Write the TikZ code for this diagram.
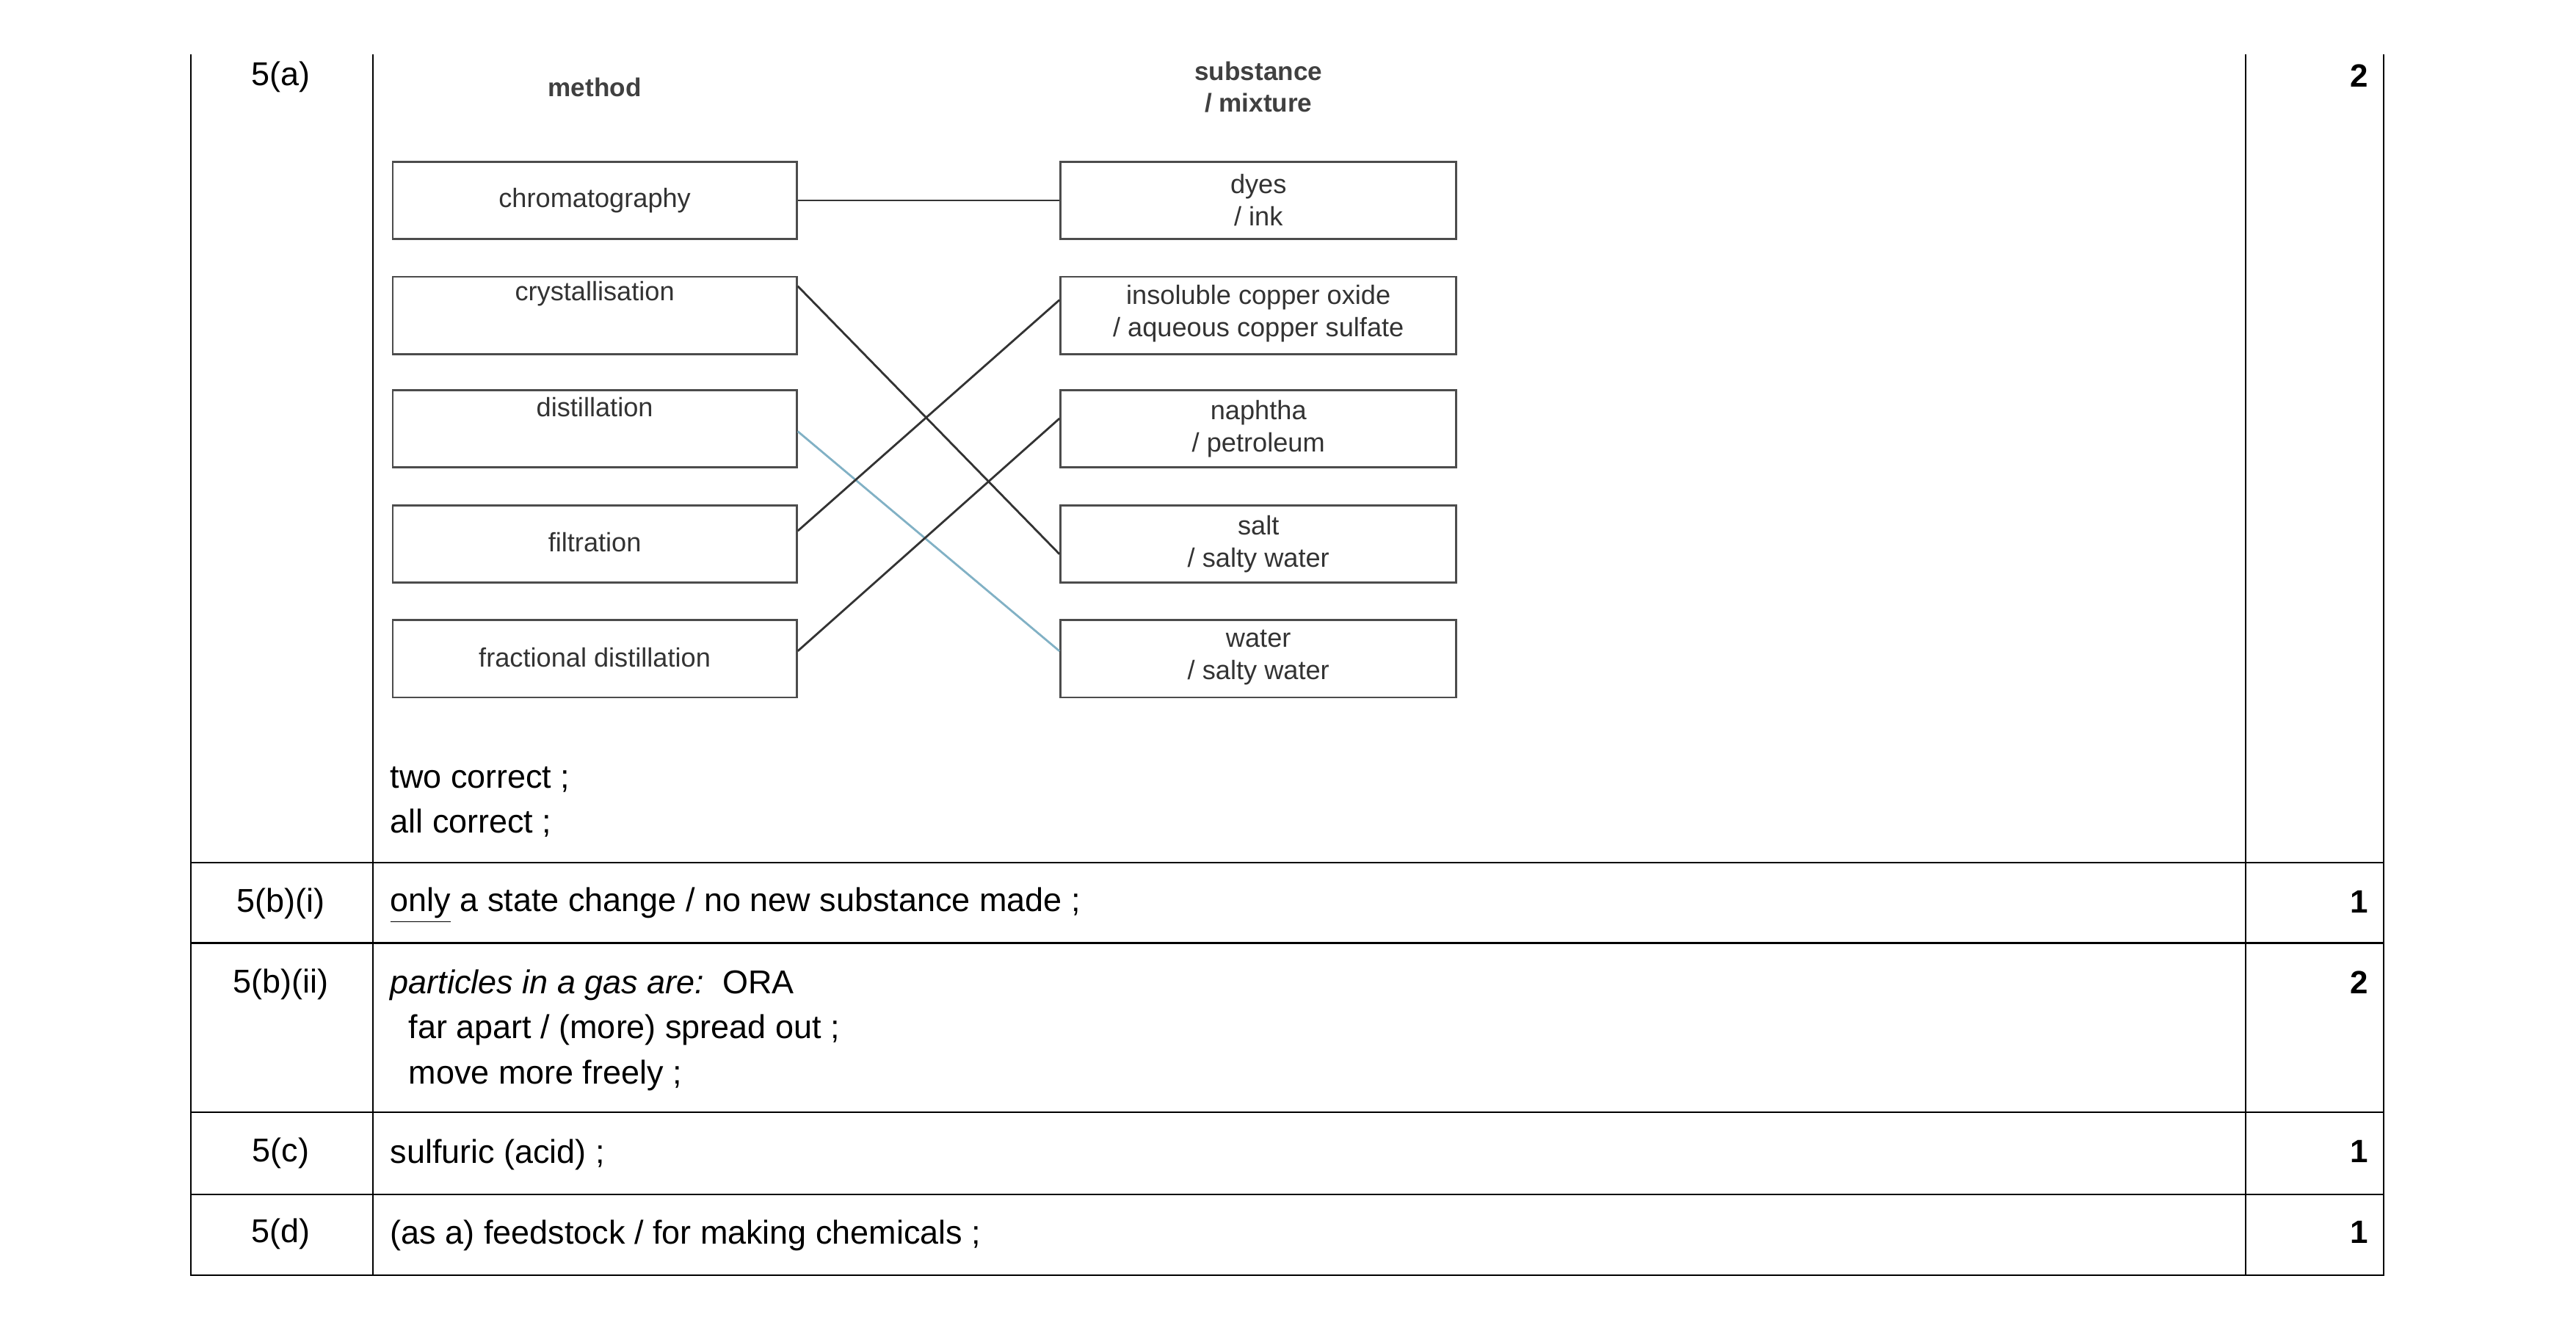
\documentclass[tikz,border=0pt]{standalone}
\usepackage{fontspec}
\setmainfont{Liberation Sans}
\usetikzlibrary{positioning}
\begin{document}
\begin{tikzpicture}[x=0.02238cm,y=-0.02238cm,
    box/.style={draw=black!70,line width=0.8pt,minimum width=5.505cm,minimum height=1.052cm},
    rbox/.style={box,minimum width=5.394cm},
    boxtext/.style={font=\fontsize{10.3}{12.5}\selectfont,text=black!80,align=center},
    head/.style={font=\fontsize{10}{12.5}\selectfont\bfseries,text=black!75,align=center},
    cell/.style={font=\fontsize{12.8}{17.5}\selectfont,anchor=west,align=left},
    qlabel/.style={font=\fontsize{12.8}{15}\selectfont},
    score/.style={font=\fontsize{12.5}{15}\selectfont\bfseries},
    link/.style={line width=0.8pt,black!80}]
  \useasboundingbox (0,0) rectangle (1568,810);
  % table
  \draw[line width=0.6pt] (116,33) -- (116,776) -- (1451,776) -- (1451,33);
  \draw[line width=0.6pt] (227,33) -- (227,776) (1367,33) -- (1367,776);
  \foreach \y in {525,574,677,727} \draw[line width=0.6pt] (116,\y) -- (1451,\y);
  % first column
  \node[qlabel] (qa) at (171,47) {5(a)};
  \node[qlabel] (qbi) at (171,550) {5(b)(i)};
  \node[qlabel] (qbii) at (171,599) {5(b)(ii)};
  \node[qlabel] (qc) at (171,702) {5(c)};
  \node[qlabel] (qd) at (171,751) {5(d)};
  % marks
  \node[score] (ma) at (1436,46) {2};
  \node[score] (mbi) at (1436,549) {1};
  \node[score] (mbii) at (1436,598) {2};
  \node[score] (mc) at (1436,701) {1};
  \node[score] (md) at (1436,750) {1};
  % headings
  \node[head] (hmethod) at (362,53) {method};
  \node[head] (hsub) at (766,53) {substance\\/ mixture};
  % left boxes
  \node[box] (chrom) at (362,122) {};
  \node[box] (cryst) at (362,192) {};
  \node[box] (dist) at (362,261) {};
  \node[box] (filt) at (362,331) {};
  \node[box] (fract) at (362,401) {};
  \node[boxtext] at (362,122) {chromatography};
  \node[boxtext] at (362,179) {crystallisation};
  \node[boxtext] at (362,248) {distillation};
  \node[boxtext] at (362,330) {filtration};
  \node[boxtext] at (362,400) {fractional distillation};
  % right boxes
  \node[rbox] (dyes) at (766,122) {};
  \node[rbox] (oxide) at (766,192) {};
  \node[rbox] (naph) at (766,261) {};
  \node[rbox] (salt) at (766,331) {};
  \node[rbox] (water) at (766,401) {};
  \node[boxtext] at (766,122) {dyes\\/ ink};
  \node[boxtext] at (766,191) {insoluble copper oxide\\/ aqueous copper sulfate};
  \node[boxtext] at (766,261) {naphtha\\/ petroleum};
  \node[boxtext] at (766,331) {salt\\/ salty water};
  \node[boxtext] at (766,400) {water\\/ salty water};
  % connectors
  \draw[link] (chrom.east) -- (dyes.west);
  \draw[link] ([yshift=-4]cryst.north east) -- ([yshift=-4]salt.west);
  \draw[link,cyan!60!black!60] ([yshift=-1]dist.east) -- ([yshift=3]water.west);
  \draw[link] ([yshift=5]filt.east) -- ([yshift=6]oxide.west);
  \draw[link] ([yshift=3]fract.east) -- ([yshift=4]naph.west);
  % answers
  \node[cell] (ans1) at (232,488) {two correct ;\\all correct ;};
  \node[cell] (ans2) at (232,551) {\underline{only} a state change / no new substance made ;};
  \node[cell] (ans3) at (232,627) {\textit{particles in a gas are:}\ \ ORA\\\ \ far apart / (more) spread out ;\\\ \ move more freely ;};
  \node[cell] (ans4) at (232,703) {sulfuric (acid) ;};
  \node[cell] (ans5) at (232,752) {(as a) feedstock / for making chemicals ;};
\end{tikzpicture}
\end{document}
